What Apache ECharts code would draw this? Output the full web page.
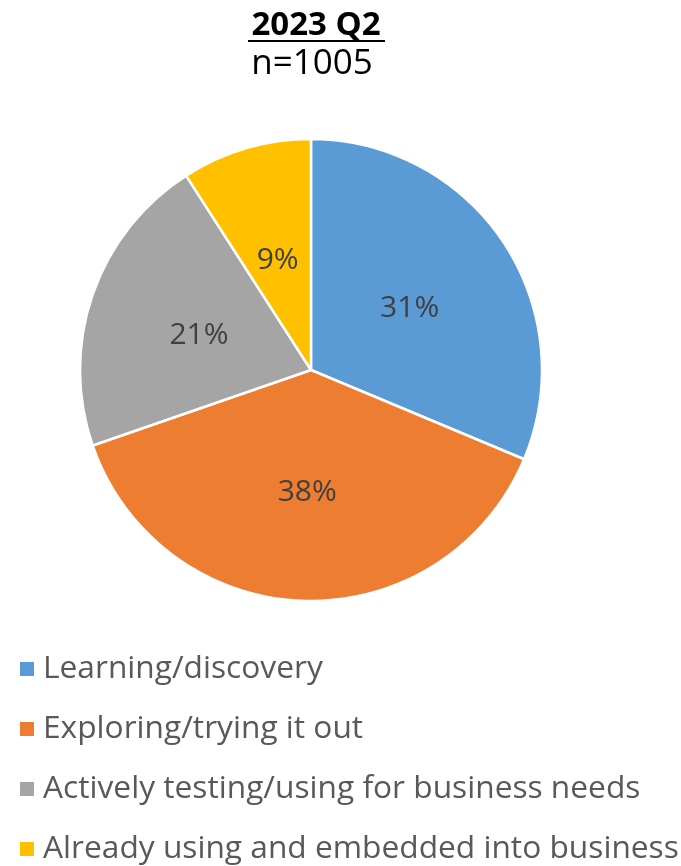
<!DOCTYPE html>
<html>
<head>
<meta charset="utf-8">
<script src="https://cdn.jsdelivr.net/npm/echarts@6/dist/echarts.min.js"></script>
<style>
html, body { margin: 0; padding: 0; background: #fff; }
#chart { width: 681px; height: 866px; }
</style>
</head>
<body>
<div id="chart"></div>
<script>
var categories = [
    'Learning/discovery',
    'Exploring/trying it out',
    'Actively testing/using for business needs',
    'Already using and embedded into business'
];
var shares = [31, 38, 21, 9];
var colors = ['#5B9BD5', '#ED7D31', '#A5A5A5', '#FFC000'];
var titleText = '2023 Q2';
var subtitleText = 'n=1005';

var chart = echarts.init(document.getElementById('chart'), null, { renderer: 'canvas' });

var font = '"Open Sans", sans-serif';

chart.setOption({
    animation: false,
    backgroundColor: '#fff',
    color: colors,
    // title drawn as graphic text so it can sit over the pie centre and carry an underline
    graphic: [{
        type: 'text',
        x: 316,
        y: 26,
        style: {
            text: titleText,
            font: 'bold 33px ' + font,
            fill: '#000',
            align: 'center',
            verticalAlign: 'middle'
        }
    }, {
        type: 'line',
        shape: { x1: 248, y1: 41, x2: 385, y2: 41 },
        style: { stroke: '#000', lineWidth: 2 }
    }, {
        type: 'text',
        x: 312,
        y: 64,
        style: {
            text: subtitleText,
            font: '35px ' + font,
            fill: '#000',
            align: 'center',
            verticalAlign: 'middle'
        }
    }],
    legend: {
        orient: 'vertical',
        left: 18,
        top: 653,
        padding: 0,
        icon: 'rect',
        itemWidth: 16,
        itemHeight: 16,
        itemGap: 28,
        textStyle: { fontFamily: font, fontSize: 31.7, color: '#595959', padding: [0, 0, 0, 3] },
        data: categories
    },
    series: [{
        type: 'pie',
        center: [311, 370],
        radius: [0, 231],
        startAngle: 90,
        clockwise: true,
        itemStyle: { borderColor: '#fff', borderWidth: 2.5 },
        label: {
            show: true,
            position: 'inside',
            formatter: '{c}%',
            fontFamily: font,
            fontSize: 30,
            color: '#404040',
            offset: [0, 4]
        },
        labelLine: { show: false },
        emphasis: { disabled: true },
        data: categories.map(function (name, i) {
            return { name: name, value: shares[i] };
        })
    }]
});
</script>
</body>
</html>
